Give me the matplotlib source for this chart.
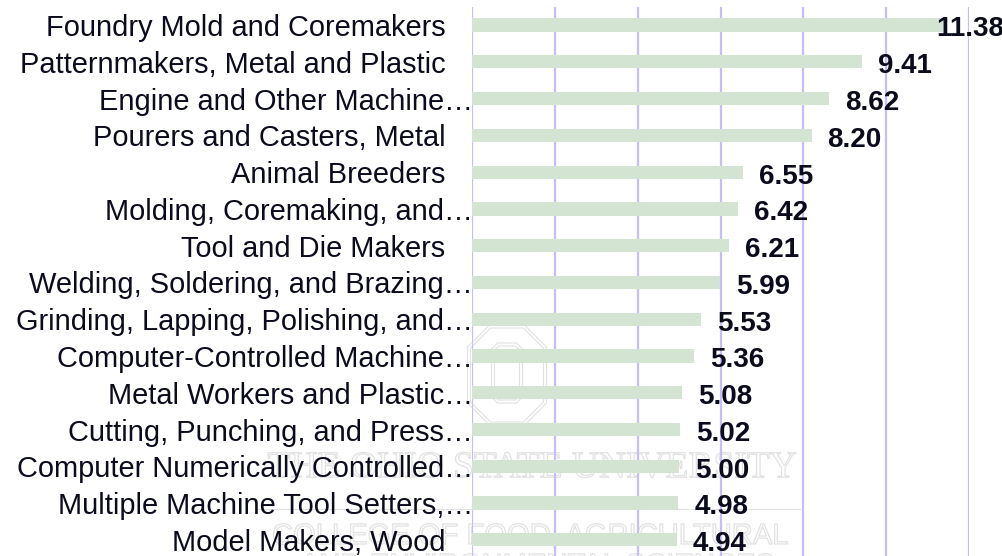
import matplotlib
matplotlib.use("Agg")
import matplotlib.pyplot as plt
import matplotlib.patheffects as pe
from matplotlib.patches import Polygon
from matplotlib.transforms import blended_transform_factory

# Occupations, top to bottom, with their values
LABELS = [
    "Foundry Mold and Coremakers",
    "Patternmakers, Metal and Plastic",
    "Engine and Other Machine\u2026",
    "Pourers and Casters, Metal",
    "Animal Breeders",
    "Molding, Coremaking, and\u2026",
    "Tool and Die Makers",
    "Welding, Soldering, and Brazing\u2026",
    "Grinding, Lapping, Polishing, and\u2026",
    "Computer-Controlled Machine\u2026",
    "Metal Workers and Plastic\u2026",
    "Cutting, Punching, and Press\u2026",
    "Computer Numerically Controlled\u2026",
    "Multiple Machine Tool Setters,\u2026",
    "Model Makers, Wood",
]
VALUES = [11.38, 9.41, 8.62, 8.20, 6.55, 6.42, 6.21, 5.99, 5.53, 5.36, 5.08, 5.02, 5.00, 4.98, 4.94]
GRID_TICKS = [0, 2, 4, 6, 8, 10, 12]

BAR = "#d3e4d3"
GRID = "#c6befa"
INK = "#0b0b1e"
WM = "#e2e2e2"

plt.rcParams["font.family"] = ["Liberation Sans", "DejaVu Sans"]

fig = plt.figure(figsize=(10.03, 5.56), dpi=100)

# faint background watermark, drawn in pixel coordinates behind the chart
bg = fig.add_axes([0, 0, 1, 1], zorder=-1)
bg.set_xlim(0, 1003)
bg.set_ylim(556, 0)
bg.axis("off")


def octagon(cx, cy, w, h, c):
    x0, x1, y0, y1 = cx - w / 2, cx + w / 2, cy - h / 2, cy + h / 2
    return [(x0 + c, y0), (x1 - c, y0), (x1, y0 + c), (x1, y1 - c),
            (x1 - c, y1), (x0 + c, y1), (x0, y1 - c), (x0, y0 + c)]


for w, h, c in [(79, 100, 22), (73, 94, 20)]:
    bg.add_patch(Polygon(octagon(507, 375, w, h, c), closed=True, fill=False, ec=WM, lw=0.8))
for w, h, c in [(31, 60, 6), (25, 54, 4)]:
    bg.add_patch(Polygon(octagon(507, 373, w, h, c), closed=True, fill=False, ec=WM, lw=0.8))

outline = [pe.withStroke(linewidth=0.9, foreground=WM)]
bg.text(797, 468, "THE OHIO STATE UNIVERSITY", fontsize=27, color="none", ha="right",
        va="center", family="Liberation Serif", path_effects=outline)
bg.plot([257, 800], [509, 509], color=WM, lw=0.8)
bg.text(272, 536, "COLLEGE OF FOOD, AGRICULTURAL", fontsize=21, color="none", ha="left",
        va="center", path_effects=outline)
bg.text(300, 566, "AND ENVIRONMENTAL SCIENCES", fontsize=21, color="none", ha="left",
        va="center", path_effects=outline)

ax = fig.add_axes([0.4706, -0.004, 0.4955, 0.992])
ax.set_facecolor("none")

ys = list(range(len(LABELS)))
ax.barh(ys, VALUES, height=0.36, color=BAR, edgecolor="none", zorder=2)

ax.set_xlim(0, 12)
ax.set_ylim(len(LABELS) - 0.5, -0.5)
ax.set_xticks(GRID_TICKS)
ax.grid(axis="x", color=GRID, linewidth=1.6, zorder=1)
ax.set_axisbelow(True)
ax.tick_params(length=0, labelbottom=False, labelleft=False)
for s in ax.spines.values():
    s.set_visible(False)

tr = blended_transform_factory(ax.transAxes, ax.transData)
for y, lab in zip(ys, LABELS):
    x = 0.002 if lab.endswith("\u2026") else -0.054
    ax.text(x, y, lab, transform=tr, ha="right", va="center_baseline",
            fontsize=20.9, color=INK, clip_on=False)

for y, v in zip(ys, VALUES):
    if v > 11:
        ax.annotate(f"{v:.2f}", (v, y), xytext=(44, -1), textcoords="offset points",
                    ha="right", va="center_baseline", fontsize=20, fontweight="bold",
                    color=INK, annotation_clip=False, zorder=3)
    else:
        ax.annotate(f"{v:.2f}", (v, y), xytext=(11.5, -1), textcoords="offset points",
                    ha="left", va="center_baseline", fontsize=20, fontweight="bold",
                    color=INK, annotation_clip=False, zorder=3)

fig.savefig("out.png", dpi=100)
